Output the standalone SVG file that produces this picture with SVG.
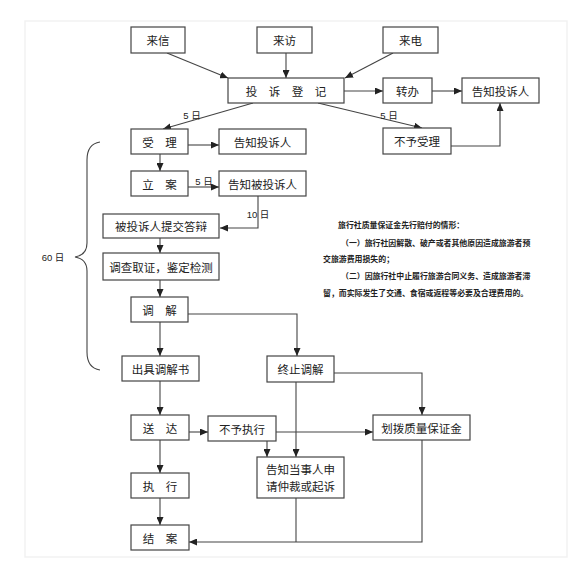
<svg xmlns="http://www.w3.org/2000/svg" width="585" height="572" viewBox="0 0 585 572">
<defs>
<marker id="ah" markerUnits="userSpaceOnUse" markerWidth="8" markerHeight="7" refX="8" refY="3.5" orient="auto">
<path d="M0,0 L8,3.5 L0,7 Z" fill="#222"/>
</marker>
<style>
.box{fill:#fff;stroke:#444;stroke-width:1.2}
.t{font-family:"Noto Sans CJK SC","Liberation Sans",sans-serif;font-size:11.5px;fill:#222;text-anchor:middle;dominant-baseline:central}
.sp{word-spacing:9px}
.c{fill:none;stroke:#444;stroke-width:1.1}
.a{marker-end:url(#ah)}
.lbl{font-family:"Liberation Sans","Noto Sans CJK SC",sans-serif;font-size:9.5px;fill:#222;text-anchor:middle;dominant-baseline:central}
.note{font-family:"Noto Sans CJK SC",sans-serif;font-size:7.9px;fill:#222;font-weight:bold}
</style>
</defs>
<rect x="25" y="21" width="542" height="536" fill="#fff" stroke="#f2f2f2" stroke-width="1.5"/>
<g id="connectors">
<line class="c a" x1="167" y1="53" x2="228" y2="78"/>
<line class="c a" x1="286" y1="53" x2="286" y2="78"/>
<line class="c a" x1="393" y1="53" x2="345" y2="78"/>
<line class="c a" x1="344" y1="91" x2="383" y2="91"/>
<line class="c a" x1="432" y1="91" x2="462" y2="91"/>
<line class="c a" x1="253" y1="103" x2="163" y2="129"/>
<line class="c a" x1="318" y1="103" x2="422" y2="128"/>
<polyline class="c a" points="451,146 500,146 500,103"/>
<line class="c a" x1="188" y1="145" x2="219" y2="145"/>
<line class="c a" x1="160" y1="154" x2="160" y2="171"/>
<line class="c a" x1="188" y1="187" x2="219" y2="187"/>
<polyline class="c a" points="258,196 258,228 220,228"/>
<line class="c a" x1="160" y1="238" x2="160" y2="253"/>
<line class="c a" x1="160" y1="280" x2="160" y2="297"/>
<line class="c a" x1="160" y1="322" x2="160" y2="356"/>
<polyline class="c a" points="188,314 297,314 297,356"/>
<line class="c a" x1="160" y1="381" x2="160" y2="415"/>
<polyline class="c a" points="334,373 422,373 422,415"/>
<line class="c a" x1="189" y1="432" x2="208" y2="432"/>
<line class="c a" x1="276" y1="432" x2="373" y2="432"/>
<line class="c a" x1="296" y1="382" x2="296" y2="457"/>
<line class="c a" x1="267" y1="441" x2="267" y2="457"/>
<line class="c a" x1="160" y1="440" x2="160" y2="473"/>
<line class="c a" x1="160" y1="498" x2="160" y2="525"/>
<polyline class="c a" points="422,440 422,542 189,542"/>
<line class="c" x1="296" y1="498" x2="296" y2="542"/>
<path class="c" d="M100,142 Q87,144 87,160 L87,243 Q87,255 75,257 Q87,259 87,271 L87,352 Q87,368 100,370"/>
</g>
<g id="labels">
<text class="lbl" x="192" y="115">5 日</text>
<text class="lbl" x="389" y="115">5 日</text>
<text class="lbl" x="204" y="181">5 日</text>
<text class="lbl" x="258" y="214">10 日</text>
<text class="lbl" x="53" y="257">60 日</text>
</g>
<g id="n-laixin"><rect class="box" x="131" y="27" width="54" height="26"/><text class="t" x="158" y="40">来信</text></g>
<g id="n-laifang"><rect class="box" x="257" y="27" width="55" height="26"/><text class="t" x="284.5" y="40">来访</text></g>
<g id="n-laidian"><rect class="box" x="383" y="27" width="55" height="26"/><text class="t" x="410.5" y="40">来电</text></g>
<g id="n-dengji"><rect class="box" x="228" y="78" width="116" height="25"/><text class="t sp" x="286" y="90.5">投 诉 登 记</text></g>
<g id="n-zhuanban"><rect class="box" x="383" y="78" width="49" height="25"/><text class="t" x="407.5" y="90.5">转办</text></g>
<g id="n-gaozhi1"><rect class="box" x="462" y="78" width="77" height="25"/><text class="t" x="500.5" y="90.5">告知投诉人</text></g>
<g id="n-shouli"><rect class="box" x="131" y="129" width="57" height="25"/><text class="t sp" x="159.5" y="141.5">受 理</text></g>
<g id="n-gaozhi2"><rect class="box" x="219" y="129" width="87" height="25"/><text class="t" x="262.5" y="141.5">告知投诉人</text></g>
<g id="n-buyushouli"><rect class="box" x="383" y="128" width="68" height="26"/><text class="t" x="417" y="141">不予受理</text></g>
<g id="n-lian"><rect class="box" x="131" y="171" width="57" height="25"/><text class="t sp" x="159.5" y="183.5">立 案</text></g>
<g id="n-gaozhi3"><rect class="box" x="219" y="171" width="87" height="25"/><text class="t" x="262.5" y="183.5">告知被投诉人</text></g>
<g id="n-dabian"><rect class="box" x="103" y="214" width="116" height="24"/><text class="t" x="161" y="226">被投诉人提交答辩</text></g>
<g id="n-diaocha"><rect class="box" x="103" y="253" width="116" height="27"/><text class="t" x="161" y="266.5">调查取证，鉴定检测</text></g>
<g id="n-tiaojie"><rect class="box" x="131" y="297" width="57" height="25"/><text class="t sp" x="159.5" y="309.5">调 解</text></g>
<g id="n-chuju"><rect class="box" x="122" y="356" width="77" height="25"/><text class="t" x="160.5" y="368.5">出具调解书</text></g>
<g id="n-zhongzhi"><rect class="box" x="267" y="356" width="67" height="26"/><text class="t" x="300.5" y="369">终止调解</text></g>
<g id="n-songda"><rect class="box" x="131" y="415" width="58" height="25"/><text class="t sp" x="160" y="427.5">送 达</text></g>
<g id="n-buyuzhixing"><rect class="box" x="208" y="416" width="68" height="25"/><text class="t" x="242" y="428.5">不予执行</text></g>
<g id="n-huabo"><rect class="box" x="373" y="415" width="97" height="25"/><text class="t" x="421.5" y="427.5">划拨质量保证金</text></g>
<g id="n-gaozhi4"><rect class="box" x="257" y="457" width="87" height="41"/><text class="t" x="300.5" y="469">告知当事人申</text><text class="t" x="300.5" y="486">请仲裁或起诉</text></g>
<g id="n-zhixing"><rect class="box" x="131" y="473" width="58" height="25"/><text class="t sp" x="160" y="485.5">执 行</text></g>
<g id="n-jiean"><rect class="box" x="131" y="525" width="58" height="25"/><text class="t sp" x="160" y="537.5">结 案</text></g>
<g id="note">
<text class="note" x="338" y="228">旅行社质量保证金先行赔付的情形：</text>
<text class="note" x="341" y="246">（一）旅行社因解散、破产或者其他原因造成旅游者预</text>
<text class="note" x="323" y="262">交旅游费用损失的；</text>
<text class="note" x="341" y="279">（二）因旅行社中止履行旅游合同义务、造成旅游者滞</text>
<text class="note" x="323" y="296">留，而实际发生了交通、食宿或返程等必要及合理费用的。</text>
</g>
</svg>
